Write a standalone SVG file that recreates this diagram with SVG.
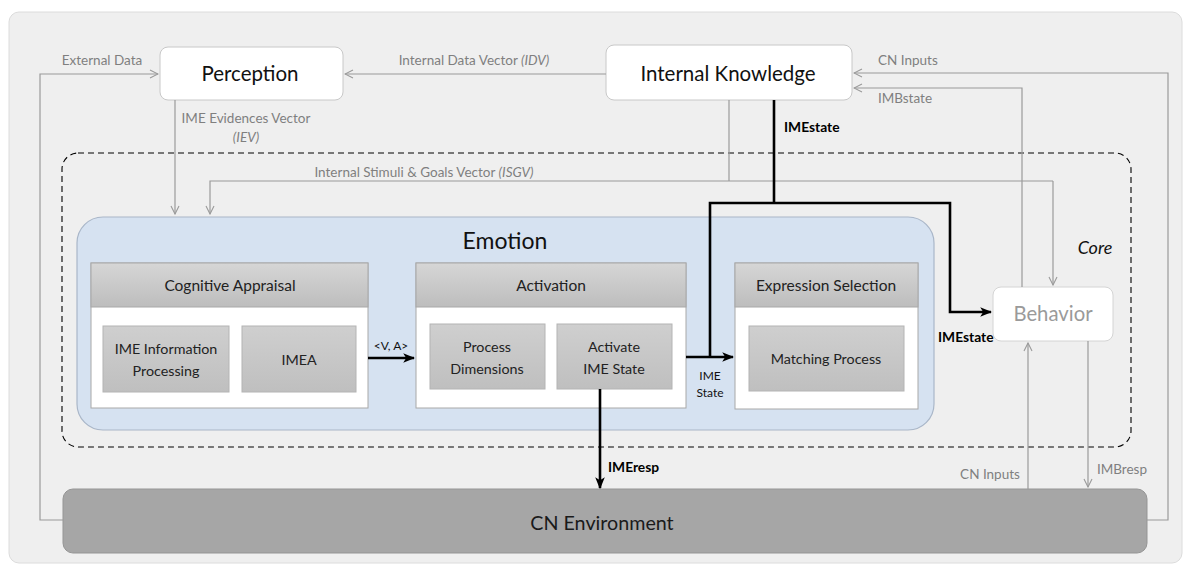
<svg xmlns="http://www.w3.org/2000/svg" width="1183" height="566" viewBox="0 0 1183 566">
  <defs>
    <marker id="openGray" viewBox="0 0 10 10" refX="9" refY="5" markerWidth="10" markerHeight="10" markerUnits="userSpaceOnUse" orient="auto">
      <path d="M1,1 L9,5 L1,9" fill="none" stroke="#9a9a9a" stroke-width="1.1"/>
    </marker>
    <marker id="solidBlack" viewBox="0 0 10 10" refX="9" refY="5" markerWidth="12" markerHeight="12" markerUnits="userSpaceOnUse" orient="auto">
      <path d="M0,1 L10,5 L0,9 L2.5,5 Z" fill="#000"/>
    </marker>
    <linearGradient id="hdr" x1="0" y1="0" x2="0" y2="1">
      <stop offset="0" stop-color="#d6d6d6"/>
      <stop offset="1" stop-color="#bdbdbd"/>
    </linearGradient>
    <linearGradient id="inner" x1="0" y1="0" x2="0" y2="1">
      <stop offset="0" stop-color="#cfcfcf"/>
      <stop offset="1" stop-color="#bfbfbf"/>
    </linearGradient>
    <style>
      text { font-family: Lato, "Open Sans", "Liberation Sans", sans-serif; text-anchor: middle; dominant-baseline: central; }
      .big { font-size: 20.5px; fill: #111; }
      .lbl { font-size: 13.5px; fill: #7f7f7f; }
      .lblL { font-size: 13.5px; fill: #7f7f7f; text-anchor: start; }
      .bold { font-size: 13.8px; font-weight: bold; fill: #000; text-anchor: start; }
      .hdrT { font-size: 15.5px; fill: #222; }
      .inT { font-size: 14.3px; fill: #222; }
      .small { font-size: 12px; fill: #111; }
      .thin { fill: none; stroke: #9a9a9a; stroke-width: 1.2; }
      .thick { fill: none; stroke: #000; stroke-width: 2.6; }
      .hdr { fill: url(#hdr); stroke: #a8a8a8; stroke-width: 1; }
      .body { fill: #fff; stroke: #a8a8a8; stroke-width: 1; }
      .inbox { fill: url(#inner); stroke: #b4b4b4; stroke-width: 1; }
    </style>
  </defs>

  <!-- canvas -->
  <rect x="9" y="12" width="1173" height="551" rx="10" fill="#efefef" stroke="#dcdcdc"/>

  <!-- core boundary -->
  <rect id="core" x="62" y="153" width="1069" height="294" rx="16" fill="none" stroke="#000" stroke-width="1.1" stroke-dasharray="6,4"/>
  <text x="1095" y="247" style="font-size:18px;font-style:italic;fill:#111">Core</text>

  <!-- perception -->
  <g id="perception">
    <rect x="160" y="47" width="183" height="53" rx="8" fill="#fff" stroke="#c8c8c8"/>
    <text class="big" x="250" y="73">Perception</text>
  </g>

  <!-- internal knowledge -->
  <g id="internal-knowledge">
    <rect x="606" y="45" width="246" height="55" rx="8" fill="#fff" stroke="#c8c8c8"/>
    <text class="big" x="728" y="73">Internal Knowledge</text>
  </g>

  <!-- emotion -->
  <g id="emotion">
    <rect x="77" y="217" width="857" height="213" rx="26" fill="#d6e2f1" stroke="#a9b6c8" stroke-width="1.2"/>
    <text x="505" y="240" style="font-size:23px;fill:#111">Emotion</text>
  </g>

  <!-- cognitive appraisal -->
  <g id="cognitive-appraisal">
    <rect class="body" x="91" y="263" width="277" height="145"/>
    <rect class="hdr" x="91" y="263" width="277" height="44"/>
    <text class="hdrT" x="230" y="285">Cognitive Appraisal</text>
    <rect class="inbox" x="103" y="326" width="126" height="66"/>
    <text class="inT" x="166" y="348">IME Information</text>
    <text class="inT" x="166" y="370">Processing</text>
    <rect class="inbox" x="242" y="326" width="114" height="66"/>
    <text class="inT" x="299" y="359">IMEA</text>
  </g>

  <!-- activation -->
  <g id="activation">
    <rect class="body" x="416" y="263" width="270" height="145"/>
    <rect class="hdr" x="416" y="263" width="270" height="44"/>
    <text class="hdrT" x="551" y="285">Activation</text>
    <rect class="inbox" x="430" y="324" width="115" height="65"/>
    <text class="inT" x="487" y="346">Process</text>
    <text class="inT" x="487" y="368">Dimensions</text>
    <rect class="inbox" x="557" y="324" width="115" height="65"/>
    <text class="inT" x="614" y="346">Activate</text>
    <text class="inT" x="614" y="368">IME State</text>
  </g>

  <!-- expression selection -->
  <g id="expression-selection">
    <rect class="body" x="735" y="263" width="183" height="146"/>
    <rect class="hdr" x="735" y="263" width="183" height="44"/>
    <text class="hdrT" x="826" y="285">Expression Selection</text>
    <rect class="inbox" x="749" y="326" width="155" height="65"/>
    <text class="inT" x="826" y="358">Matching Process</text>
  </g>

  <!-- behavior -->
  <g id="behavior">
    <rect x="993" y="287" width="120" height="54" rx="8" fill="#fff" stroke="#d4d4d4"/>
    <text x="1053" y="313" style="font-size:20.3px;fill:#9a9a9a">Behavior</text>
  </g>

  <!-- environment -->
  <g id="cn-environment">
    <rect x="63" y="489" width="1084" height="64" rx="10" fill="#a6a6a6" stroke="#959595"/>
    <text x="602" y="522" style="font-size:19.7px;fill:#1a1a1a">CN Environment</text>
  </g>

  <!-- connectors -->
  <g id="connectors">
    <!-- external data loop -->
    <path class="thin" d="M63,520 H40 V74 H158" marker-end="url(#openGray)"/>
    <text class="lbl" x="102" y="60">External Data</text>
    <!-- IDV -->
    <path class="thin" d="M606,74 H345" marker-end="url(#openGray)"/>
    <text class="lbl" x="474" y="60">Internal Data Vector <tspan font-style="italic">(IDV)</tspan></text>
    <!-- CN inputs to knowledge -->
    <path class="thin" d="M1147,520 H1168 V73 H854" marker-end="url(#openGray)"/>
    <text class="lblL" x="878" y="60">CN Inputs</text>
    <!-- IMBstate -->
    <path class="thin" d="M1022,287 V88 H854" marker-end="url(#openGray)"/>
    <text class="lblL" x="878" y="98">IMBstate</text>
    <!-- IEV -->
    <path class="thin" d="M175,100 V214" marker-end="url(#openGray)"/>
    <text class="lbl" x="246" y="118">IME Evidences Vector</text>
    <text class="lbl" x="246" y="137" font-style="italic">(IEV)</text>
    <!-- ISGV -->
    <path class="thin" d="M729,100 V181"/>
    <path class="thin" d="M1053,181 H210 V214" marker-end="url(#openGray)"/>
    <path class="thin" d="M1053,181 V285" marker-end="url(#openGray)"/>
    <text class="lbl" x="424" y="172">Internal Stimuli &amp; Goals Vector <tspan font-style="italic">(ISGV)</tspan></text>

    <!-- IMEstate from knowledge -->
    <path class="thick" d="M774,100 V203"/>
    <path class="thick" d="M710,357 V203 H950 V312 H991" marker-end="url(#solidBlack)"/>
    <text class="bold" x="784" y="126">IMEstate</text>
    <text class="bold" x="938" y="336">IMEstate</text>

    <!-- V,A -->
    <path class="thick" d="M368,358 H414" marker-end="url(#solidBlack)"/>
    <text class="small" x="391" y="345">&lt;V, A&gt;</text>
    <!-- IME state to selection -->
    <path class="thick" d="M686,357 H733" marker-end="url(#solidBlack)"/>
    <text class="small" x="710" y="375">IME</text>
    <text class="small" x="710" y="392">State</text>
    <!-- IMEresp -->
    <path class="thick" d="M600,389 V488" marker-end="url(#solidBlack)"/>
    <text class="bold" x="608" y="466">IMEresp</text>

    <!-- CN inputs to behavior -->
    <path class="thin" d="M1028,489 V343" marker-end="url(#openGray)"/>
    <text class="lbl" x="990" y="474">CN Inputs</text>
    <!-- IMBresp -->
    <path class="thin" d="M1088,341 V487" marker-end="url(#openGray)"/>
    <text class="lbl" x="1122" y="469">IMBresp</text>
  </g>
</svg>
